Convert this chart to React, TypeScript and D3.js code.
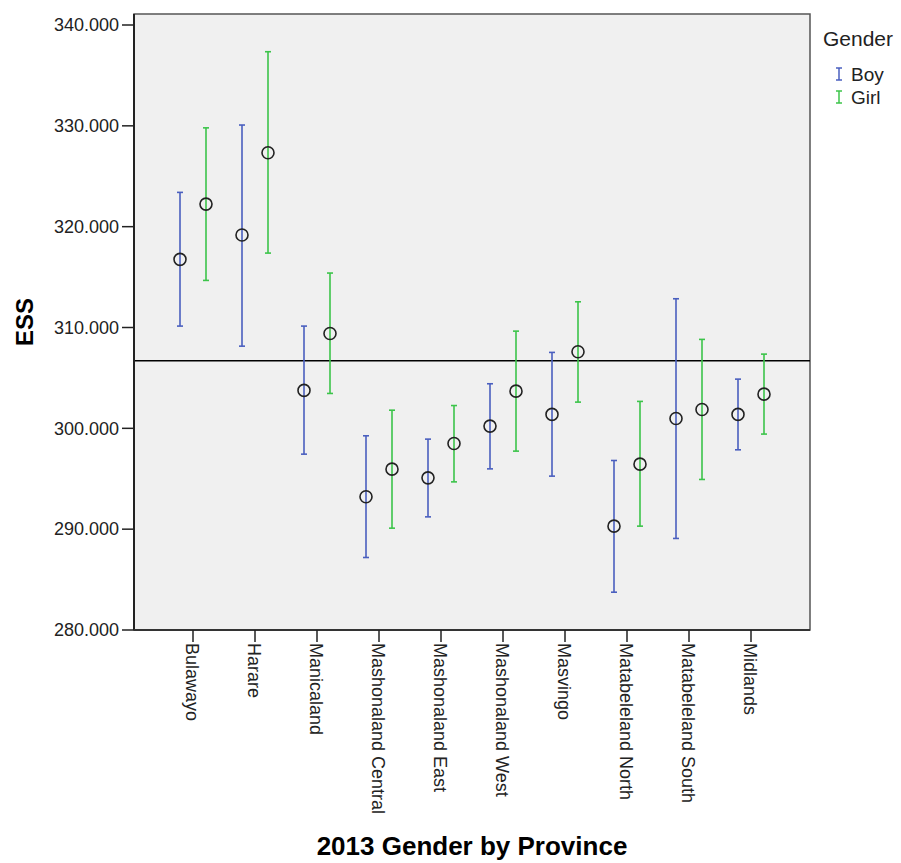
import React from "react";
import * as d3 from "d3";

const provinces = [
  "Bulawayo",
  "Harare",
  "Manicaland",
  "Mashonaland Central",
  "Mashonaland East",
  "Mashonaland West",
  "Masvingo",
  "Matabeleland North",
  "Matabeleland South",
  "Midlands",
];
const boyMean = [316.76, 319.17, 303.76, 293.21, 295.09, 300.22, 301.38, 290.3, 300.98, 301.38];
const boyLow = [310.14, 308.15, 297.44, 287.19, 291.22, 295.98, 295.26, 283.75, 289.08, 297.87];
const boyHigh = [323.4, 330.08, 310.14, 299.26, 298.93, 304.42, 307.53, 296.81, 312.85, 304.88];
const girlMean = [322.24, 327.33, 309.41, 295.95, 298.5, 303.69, 307.59, 296.45, 301.87, 303.39];
const girlLow = [314.67, 317.38, 303.46, 290.1, 294.69, 297.74, 302.6, 290.3, 294.93, 299.43];
const girlHigh = [329.8, 337.35, 315.4, 301.8, 302.26, 309.64, 312.55, 302.67, 308.82, 307.36];
const grandMean = 306.7;
const yTicks = [280, 290, 300, 310, 320, 330, 340];
const genders = ["Boy", "Girl"];
const colors = ["#4a5fbf", "#3cc44a"];

export default function App() {
  const W = 901, H = 863;
  const x0 = 134, x1 = 810, y0 = 14, y1 = 630;
  const y = d3.scaleLinear().domain([280, 340]).range([630, 25]);
  const x = d3.scalePoint<string>().domain(provinces).range([x0 + 59, x1 - 59]);
  const off = d3.scalePoint<string>().domain(genders).range([-13, 13]);
  const font = "'Liberation Sans', Arial, sans-serif";
  const series = [
    { g: "Boy", mean: boyMean, lo: boyLow, hi: boyHigh },
    { g: "Girl", mean: girlMean, lo: girlLow, hi: girlHigh },
  ];
  return (
    <svg width={W} height={H} style={{ position: "absolute", left: 0, top: 0, background: "#fff" }} fontFamily={font}>
      <rect x={x0} y={y0} width={x1 - x0} height={y1 - y0} fill="#f0f0f0" stroke="#555" strokeWidth={1.5} />
      <line x1={x0} x2={x1} y1={y(grandMean)} y2={y(grandMean)} stroke="#000" strokeWidth={1.5} />
      {series.map((s, si) =>
        provinces.map((p, i) => {
          const cx = (x(p) as number) + (off(s.g) as number);
          return (
            <g key={s.g + p}>
              <line x1={cx} x2={cx} y1={y(s.lo[i])} y2={y(s.hi[i])} stroke={colors[si]} strokeWidth={1.6} />
              <line x1={cx - 3} x2={cx + 3} y1={y(s.lo[i])} y2={y(s.lo[i])} stroke={colors[si]} strokeWidth={1.6} />
              <line x1={cx - 3} x2={cx + 3} y1={y(s.hi[i])} y2={y(s.hi[i])} stroke={colors[si]} strokeWidth={1.6} />
            </g>
          );
        })
      )}
      {series.map((s) =>
        provinces.map((p, i) => {
          const cx = (x(p) as number) + (off(s.g) as number);
          return <circle key={"c" + s.g + p} cx={cx} cy={y(s.mean[i])} r={6} fill="none" stroke="#222" strokeWidth={1.6} />;
        })
      )}
      <line x1={x0} x2={x0} y1={y0} y2={y1} stroke="#222" strokeWidth={2} />
      <line x1={x0} x2={x1} y1={y1} y2={y1} stroke="#333" strokeWidth={2} />
      {yTicks.map((t) => (
        <g key={t}>
          <line x1={x0 - 12} x2={x0} y1={y(t)} y2={y(t)} stroke="#222" strokeWidth={1.5} />
          <text x={x0 - 15} y={y(t)} dy="0.35em" textAnchor="end" fontSize={18} fill="#222">
            {d3.format(".3f")(t)}
          </text>
        </g>
      ))}
      {provinces.map((p) => (
        <g key={p}>
          <line x1={x(p)} x2={x(p)} y1={y1} y2={y1 + 12} stroke="#222" strokeWidth={1.5} />
          <text
            transform={`translate(${(x(p) as number) - 1},${y1 + 13}) rotate(90)`}
            dy="0.35em"
            fontSize={18}
            fill="#222"
          >
            {p}
          </text>
        </g>
      ))}
      <text transform={`translate(33,${(y0 + y1) / 2}) rotate(-90)`} textAnchor="middle" fontSize={24} fontWeight="bold" fill="#000">
        ESS
      </text>
      <text x={472} y={855} textAnchor="middle" fontSize={26} fontWeight="bold" fill="#000">
        2013 Gender by Province
      </text>
      <text x={823} y={46} fontSize={21} fill="#222">Gender</text>
      {genders.map((g, i) => {
        const ly = 74 + i * 23;
        return (
          <g key={g}>
            <line x1={839} x2={839} y1={ly - 6} y2={ly + 6} stroke={colors[i]} strokeWidth={1.5} />
            <line x1={836} x2={842} y1={ly - 6} y2={ly - 6} stroke={colors[i]} strokeWidth={1.5} />
            <line x1={836} x2={842} y1={ly + 6} y2={ly + 6} stroke={colors[i]} strokeWidth={1.5} />
            <text x={851} y={ly} dy="0.35em" fontSize={19} fill="#222">{g}</text>
          </g>
        );
      })}
    </svg>
  );
}
